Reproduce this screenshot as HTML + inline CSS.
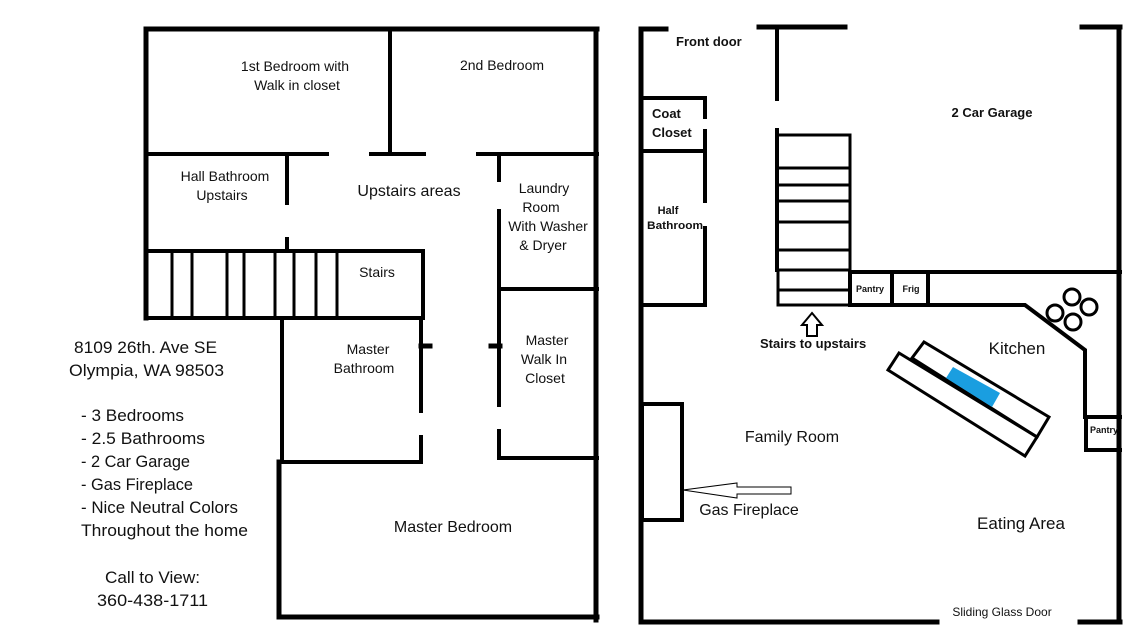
<!DOCTYPE html>
<html><head><meta charset="utf-8"><style>
html,body{margin:0;padding:0;background:#fff;width:1142px;height:633px;overflow:hidden}
svg{display:block}
text{font-family:"Liberation Sans",sans-serif;fill:#111}
.b{font-weight:bold}
</style></head><body>
<svg width="1142" height="633" viewBox="0 0 1142 633" xmlns="http://www.w3.org/2000/svg">
<g stroke="#000" fill="none" stroke-linecap="square">
<!-- LEFT PLAN -->
<path stroke-width="5" d="M146 29 H597 M146 29 V318 M596 29 V620 M279 617 H597 M279 462 V617"/>
<path stroke-width="4" d="M146 154 H327 M371 154 H424 M478 154 H597 M390 29 V154 M287 154 V203 M287 239 V250 M499 154 V180 M499 211 V287 M499 289 H597 M146 251 H423 M146 318 H423 M423 251 V318 M282 318 V462 M282 462 H421 M421 318 V411 M421 437 V462 M499 290 V405 M499 431 V458 M499 458 H597"/>
<path stroke-width="3" d="M172 251 V318 M192 251 V318 M227 251 V318 M244 251 V318 M275 251 V318 M294 251 V318 M316 251 V318 M337 251 V318"/>
<path stroke-width="5" d="M421 346 H430 M491 346 H500"/>
<!-- RIGHT PLAN -->
<path stroke-width="5" d="M641 29 V622 M641 29 H666 M759 27 H845 M1082 27 H1120 M1119 27 V622 M641 622 H937 M1080 622 H1120"/>
<path stroke-width="4" d="M777 29 V99 M777 130 V270 M641 98 H705 M705 98 V117 M705 131 V201 M705 228 V305 M641 151 H705 M641 305 H705"/>
<path stroke-width="3" d="M777 135 H850 V270 H777 M777 168 H849 M777 185 H849 M777 201 H849 M777 222 H849 M777 250 H849 M778 270 V305 H850 M778 290 H849"/>
<path stroke-width="4" d="M850 272 H1120 M850 272 V305 M892 272 V305 M928 272 V305 M850 305 H1025 L1085 350 V417 M1086 417 H1120 M1086 417 V450 H1120"/>
<circle cx="1072" cy="297" r="8" stroke-width="3"/>
<circle cx="1055" cy="313" r="8" stroke-width="3"/>
<circle cx="1089" cy="307" r="8" stroke-width="3"/>
<circle cx="1073" cy="322" r="8" stroke-width="3"/>
<polygon stroke-width="3" points="888,370 899,353 1037,437 1025,456"/>
<polygon stroke-width="3" points="912,358 924,342 1049,417 1037,437"/>
<rect x="642" y="404" width="40" height="116" stroke-width="4"/>
<polygon stroke-width="1" points="683,490 737,483 737,487 791,487 791,494 737,494 737,498"/>
<polygon stroke-width="2" points="812,313 822,325 817,325 817,336 807,336 807,325 802,325"/>
</g>
<polygon fill="#1a9ee0" points="953,367 1000,393 992,407 946,378"/>
<!-- LEFT LABELS -->
<g font-size="14">
<text x="295" y="71" text-anchor="middle">1st Bedroom with</text>
<text x="297" y="90" text-anchor="middle">Walk in closet</text>
<text x="502" y="70" text-anchor="middle">2nd Bedroom</text>
<text x="225" y="181" text-anchor="middle">Hall Bathroom</text>
<text x="222" y="200" text-anchor="middle">Upstairs</text>
<text x="544" y="193" text-anchor="middle">Laundry</text>
<text x="541" y="212" text-anchor="middle">Room</text>
<text x="548" y="231" text-anchor="middle">With Washer</text>
<text x="543" y="250" text-anchor="middle">&amp; Dryer</text>
<text x="377" y="277" text-anchor="middle">Stairs</text>
<text x="368" y="354" text-anchor="middle">Master</text>
<text x="364" y="373" text-anchor="middle">Bathroom</text>
<text x="547" y="345" text-anchor="middle">Master</text>
<text x="544" y="364" text-anchor="middle">Walk In</text>
<text x="545" y="383" text-anchor="middle">Closet</text>
</g>
<text x="409" y="196" font-size="16" text-anchor="middle">Upstairs areas</text>
<text x="453" y="532" font-size="16" text-anchor="middle">Master Bedroom</text>
<g font-size="17">
<text x="74" y="353" textLength="143" lengthAdjust="spacingAndGlyphs">8109  26th. Ave SE</text>
<text x="69" y="376" textLength="155" lengthAdjust="spacingAndGlyphs">Olympia, WA 98503</text>
<text x="81" y="421" textLength="103" lengthAdjust="spacingAndGlyphs">- 3 Bedrooms</text>
<text x="81" y="444" textLength="124" lengthAdjust="spacingAndGlyphs">- 2.5 Bathrooms</text>
<text x="81" y="467" textLength="109" lengthAdjust="spacingAndGlyphs">- 2 Car Garage</text>
<text x="81" y="490" textLength="112" lengthAdjust="spacingAndGlyphs">- Gas Fireplace</text>
<text x="81" y="513" textLength="157" lengthAdjust="spacingAndGlyphs">- Nice Neutral Colors</text>
<text x="81" y="536" textLength="167" lengthAdjust="spacingAndGlyphs">Throughout the home</text>
<text x="105" y="583" textLength="95" lengthAdjust="spacingAndGlyphs">Call to View:</text>
<text x="97" y="606" textLength="111" lengthAdjust="spacingAndGlyphs">360-438-1711</text>
</g>
<!-- RIGHT LABELS -->
<g class="b" font-size="13">
<text x="676" y="46" class="b">Front door</text>
<text x="652" y="118" class="b">Coat</text>
<text x="652" y="137" class="b">Closet</text>
<text x="992" y="117" class="b" text-anchor="middle">2 Car Garage</text>
<text x="760" y="348" class="b">Stairs to upstairs</text>
</g>
<g class="b" font-size="11">
<text x="668" y="214" class="b" text-anchor="middle">Half</text>
<text x="675" y="229" class="b" text-anchor="middle" textLength="56" lengthAdjust="spacingAndGlyphs">Bathroom</text>
</g>
<g class="b" font-size="9">
<text x="870" y="292" class="b" text-anchor="middle">Pantry</text>
<text x="911" y="292" class="b" text-anchor="middle">Frig</text>
<text x="1104" y="433" class="b" text-anchor="middle">Pantry</text>
</g>
<text x="1017" y="354" font-size="17" text-anchor="middle">Kitchen</text>
<text x="792" y="442" font-size="16" text-anchor="middle">Family Room</text>
<text x="749" y="515" font-size="16" text-anchor="middle">Gas Fireplace</text>
<text x="1021" y="529" font-size="17" text-anchor="middle">Eating Area</text>
<text x="1002" y="616" font-size="12" text-anchor="middle">Sliding Glass Door</text>
</svg>
</body></html>
